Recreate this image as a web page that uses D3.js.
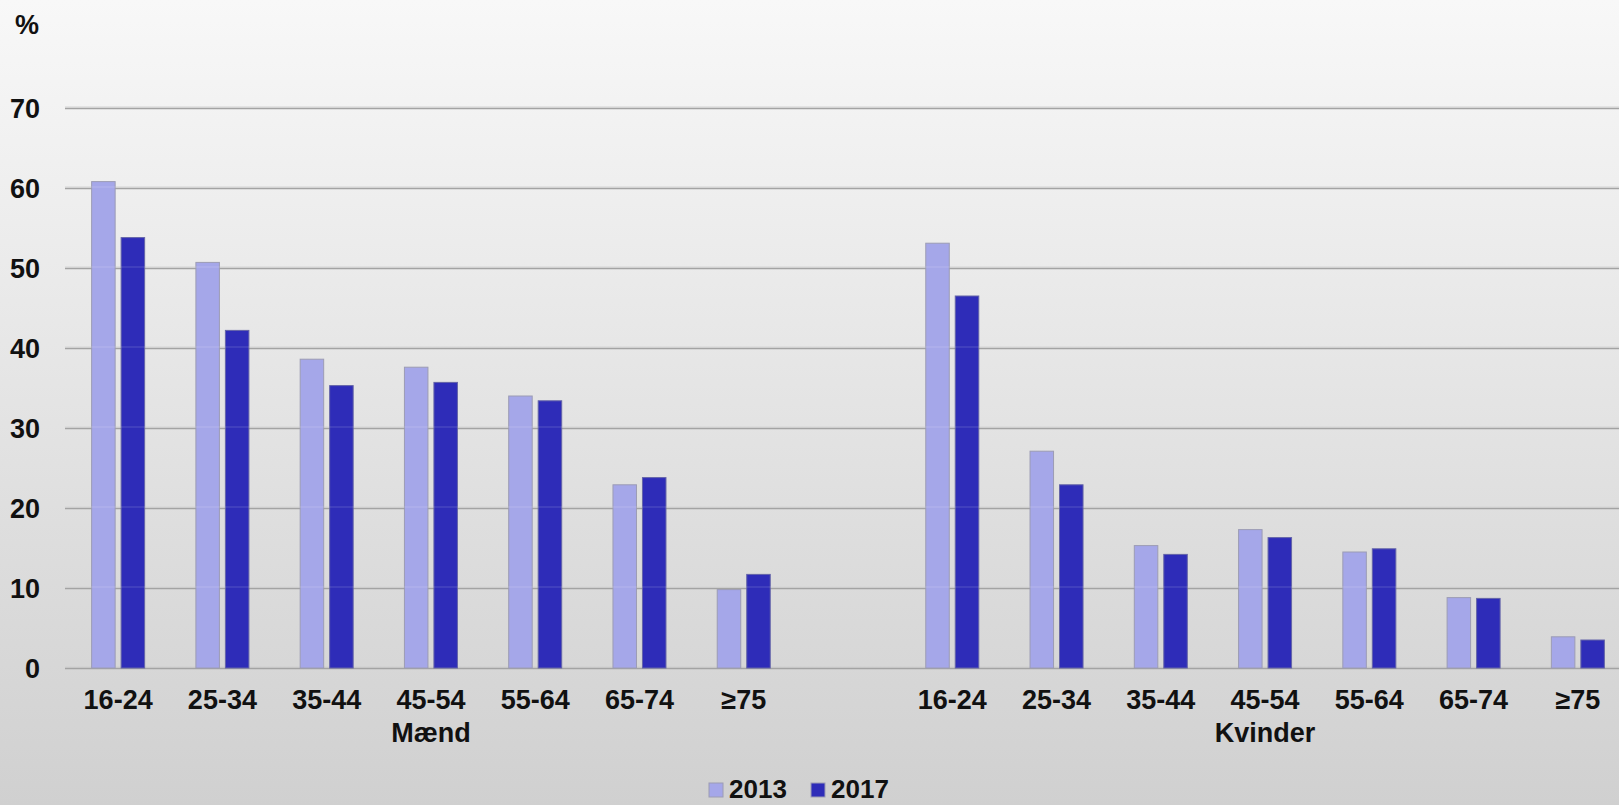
<!DOCTYPE html>
<html>
<head>
<meta charset="utf-8">
<script src="https://cdn.jsdelivr.net/npm/d3@7"></script>
<style>
html,body{margin:0;padding:0;overflow:hidden;}
svg{display:block;}
text{font-family:"Liberation Sans",Arial,sans-serif;font-weight:bold;fill:#111;}
</style>
</head>
<body>
<svg id="chart" width="1619" height="805"></svg>
<script>
const ageGroups = ["16-24","25-34","35-44","45-54","55-64","65-74","≥75"];
const sexes = ["Mænd","Kvinder"];
const years = ["2013","2017"];
const men2013 = [60.8, 50.7, 38.6, 37.6, 34.0, 22.9, 9.8];
const men2017 = [53.8, 42.2, 35.3, 35.7, 33.4, 23.8, 11.7];
const women2013 = [53.1, 27.1, 15.3, 17.3, 14.5, 8.8, 3.9];
const women2017 = [46.5, 22.9, 14.2, 16.3, 14.9, 8.7, 3.5];
const yTicks = [0,10,20,30,40,50,60,70];
const colors = {"2013":"#a5a7e9","2017":"#2e2cb8"};

const W = 1619, H = 805;
const svg = d3.select("#chart");

// background gradient
const defs = svg.append("defs");
const grad = defs.append("linearGradient").attr("id","bg").attr("x1",0).attr("y1",0).attr("x2",0).attr("y2",1);
grad.append("stop").attr("offset","0%").attr("stop-color","#f8f8f8");
grad.append("stop").attr("offset","100%").attr("stop-color","#d0d0d0");
svg.append("rect").attr("width",W).attr("height",H).attr("fill","url(#bg)");

// build slots: men groups, empty gap, women groups
const slots = [];
ageGroups.forEach((a,i)=>slots.push({key:"M"+i, age:a, sex:sexes[0], v2013:men2013[i], v2017:men2017[i]}));
slots.push({key:"gap", age:"", sex:null});
ageGroups.forEach((a,i)=>slots.push({key:"K"+i, age:a, sex:sexes[1], v2013:women2013[i], v2017:women2017[i]}));

const x = d3.scaleBand().domain(slots.map(d=>d.key)).range([66,1630]).padding(0);
const xSub = d3.scaleBand().domain(years).range([-26.5,26.5]).paddingInner(0.203).paddingOuter(0);
const y = d3.scaleLinear().domain([0,70]).range([668,108]);

// gridlines
const gx0 = 65, gx1 = W;
const grid = svg.append("g");
yTicks.forEach(t=>{
  grid.append("line").attr("x1",gx0).attr("x2",gx1).attr("y1",y(t)-1).attr("y2",y(t)-1)
    .attr("stroke","#cfcfcf").attr("stroke-width",1);
  grid.append("line").attr("x1",gx0).attr("x2",gx1).attr("y1",y(t)+0.5).attr("y2",y(t)+0.5)
    .attr("stroke","#a3a3a3").attr("stroke-width",1.6);
});

// bars
const barData = [];
slots.filter(d=>d.sex).forEach(d=>{
  years.forEach(yr=>barData.push({slot:d.key, year:yr, value:d["v"+yr]}));
});
svg.append("g").selectAll("rect").data(barData).join("rect")
  .attr("x",d=>x(d.slot)+x.bandwidth()/2+xSub(d.year))
  .attr("width",xSub.bandwidth())
  .attr("y",d=>y(d.value))
  .attr("height",d=>y(0)-y(d.value))
  .attr("fill",d=>colors[d.year])
  .attr("stroke",d=>d.year==="2013"?"#9c9cb4":"#6464a8")
  .attr("stroke-width",1);

// light line over bars at gridlines
yTicks.filter(t=>t>0).forEach(t=>{
  svg.append("line").attr("x1",gx0).attr("x2",gx1).attr("y1",y(t)-1).attr("y2",y(t)-1)
    .attr("stroke","#ffffff").attr("stroke-opacity",0.18).attr("stroke-width",1);
});

// y axis labels
const yAxis = d3.axisLeft(y).tickValues(yTicks).tickSize(0).tickPadding(0);
const ya = svg.append("g").attr("transform","translate(40,0)").call(yAxis);
ya.select(".domain").remove();
ya.selectAll("text").attr("font-size",27).attr("font-family","Liberation Sans, Arial, sans-serif")
  .attr("font-weight","bold").attr("fill","#111").attr("dy","0.35em").attr("x",0);

svg.append("text").attr("x",15).attr("y",34).attr("font-size",27).text("%");

// x axis labels
const xAxis = d3.axisBottom(x).tickSize(0).tickPadding(0).tickFormat(k=>{
  const s = slots.find(d=>d.key===k); return s.age;
});
const xa = svg.append("g").attr("transform","translate(0,690)").call(xAxis);
xa.select(".domain").remove();
xa.selectAll("text").attr("font-size",27).attr("font-family","Liberation Sans, Arial, sans-serif")
  .attr("font-weight","bold").attr("fill","#111").attr("dy","0.7em").attr("y",0);

// sex labels under middle group
sexes.forEach((s,si)=>{
  const k = (si===0?"M":"K")+"3";
  svg.append("text").attr("x",x(k)+x.bandwidth()/2).attr("y",742)
    .attr("text-anchor","middle").attr("font-size",27).text(s);
});

// legend
const legendX = [709, 811];
years.forEach((yr,i)=>{
  svg.append("rect").attr("x",legendX[i]).attr("y",783).attr("width",14).attr("height",14)
    .attr("fill",colors[yr]).attr("stroke","#9c9cb4").attr("stroke-width",1);
  svg.append("text").attr("x",legendX[i]+20).attr("y",798).attr("font-size",26).text(yr);
});
</script>
</body>
</html>
